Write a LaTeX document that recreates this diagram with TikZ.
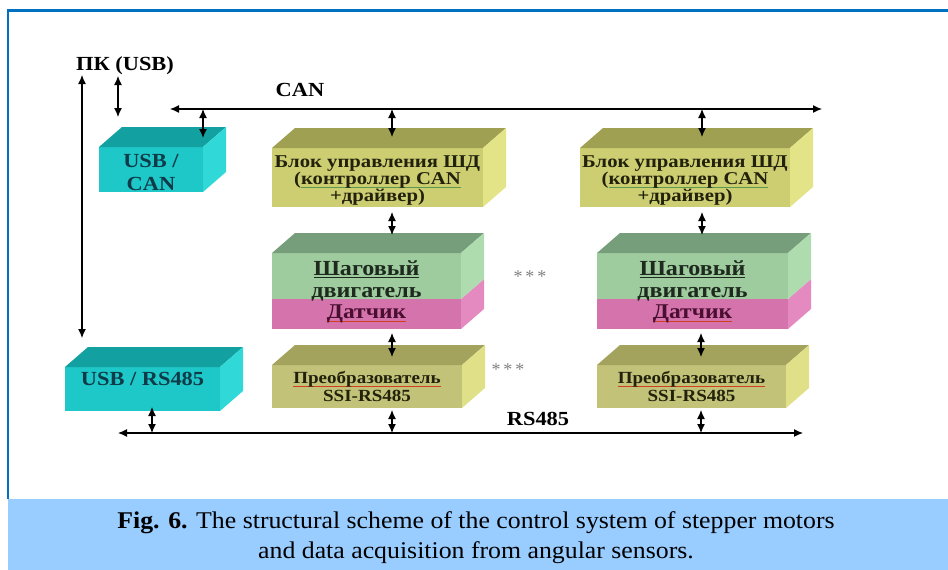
\documentclass[tikz,border=0pt]{standalone}
\usepackage{fontspec}
\setmainfont{Liberation Serif}
\newfontfamily\boxfont[FakeStretch=1.12]{Liberation Serif}
\newfontfamily\boxfontw[FakeStretch=1.15]{Liberation Serif}
\newfontfamily\capfont[FakeStretch=1.075]{Liberation Serif}
\usetikzlibrary{arrows.meta}
\definecolor{frameblue}{HTML}{0070C0}
\definecolor{capband}{HTML}{99CCFF}
\definecolor{cyF}{HTML}{1EC8C8}
\definecolor{cyT}{HTML}{12A0A0}
\definecolor{cyS}{HTML}{30D8D8}
\definecolor{cyX}{HTML}{0F3A48}
\definecolor{yeF}{HTML}{CDCD72}
\definecolor{yeT}{HTML}{A0A052}
\definecolor{yeS}{HTML}{E3E387}
\definecolor{yeX}{HTML}{22220C}
\definecolor{cvF}{HTML}{C2C278}
\definecolor{cvT}{HTML}{A3A35E}
\definecolor{cvS}{HTML}{E0E088}
\definecolor{grF}{HTML}{9FCC9F}
\definecolor{grT}{HTML}{779E7B}
\definecolor{grS}{HTML}{AEDCAE}
\definecolor{grX}{HTML}{1E2A1E}
\definecolor{pkF}{HTML}{D473AC}
\definecolor{pkS}{HTML}{E58AC0}
\definecolor{pkX}{HTML}{4A0F30}
\definecolor{ulgreen}{HTML}{5A9A4A}
\definecolor{ulred}{HTML}{D04020}
\definecolor{stargray}{HTML}{808080}
\newsavebox\ulbox
\newcommand\colul[2]{\sbox\ulbox{#2}\rlap{\textcolor{#1}{\rule[-3pt]{\wd\ulbox}{0.8pt}}}\usebox\ulbox}
\newcommand\topface[2]{\fill[#2] (#1.north west) -- ++(23,-20) -- ([shift={(23,-20)}]#1.north east) -- (#1.north east) -- cycle;}
\newcommand\sideface[2]{\fill[#2] (#1.north east) -- ++(23,-20) -- ([shift={(23,-20)}]#1.south east) -- (#1.south east) -- cycle;}
\tikzset{
  face/.style={inner sep=0pt, outer sep=0pt, align=center},
  txt/.style={inner sep=0pt, align=center},
  dar/.style={{Latex[length=9pt,width=8pt]}-{Latex[length=9pt,width=8pt]}, line width=1.2pt, black},
  lbl/.style={inner sep=0pt, font=\boxfont\bfseries\fontsize{20}{20}\selectfont},
  ytxt/.style={txt, text=yeX, font=\boxfontw\bfseries\fontsize{18}{17}\selectfont},
  vtxt/.style={text=yeX, font=\boxfont\bfseries\fontsize{17}{18}\selectfont},
  gtxt/.style={txt, text=grX, font=\boxfont\bfseries\fontsize{21.5}{22}\selectfont},
  ctxt/.style={txt, text=cyX, font=\boxfont\bfseries\fontsize{20}{23}\selectfont},
  stars/.style={text=stargray, font=\fontsize{18}{18}\selectfont}
}
\begin{document}
\begin{tikzpicture}[x=1pt,y=-1pt]
\useasboundingbox (0,0) rectangle (948,570);
% frame
\fill[capband] (8,499) rectangle (948,570);
\draw[frameblue, line width=2pt] (8,499) -- (8,10);
\draw[frameblue, line width=3pt] (7,10) -- (948,10);
% caption
\node[inner sep=0pt, align=center, font=\capfont\fontsize{24}{30}\selectfont] (cap) at (476,538)
  {\textbf{Fig. 6.} The structural scheme of the control system of stepper motors\\and data acquisition from angular sensors.};

% USB/CAN
\node[face, fill=cyF, minimum width=104pt, minimum height=45pt] (usbcan) at (151,169.5) {};
\topface{usbcan}{cyT}\sideface{usbcan}{cyS}
\node[ctxt] (usbcant) at ([yshift=-3pt]usbcan.center) {USB /\\CAN};
% USB/RS485
\node[face, fill=cyF, minimum width=155pt, minimum height=44pt] (usbrs) at (142.5,389) {};
\topface{usbrs}{cyT}\sideface{usbrs}{cyS}
\node[ctxt] (usbrst) at ([yshift=10pt]usbrs.center) {USB / RS485};

% control blocks
\node[face, fill=yeF, minimum width=211pt, minimum height=59pt] (blk1) at (377.5,177.5) {};
\topface{blk1}{yeT}\sideface{blk1}{yeS}
\node[ytxt] (blk1t) at ([yshift=-3.5pt]blk1.center)
  {Блок управления ШД\\(\colul{ulgreen}{контроллер CAN}\\+драйвер)};
\node[face, fill=yeF, minimum width=210pt, minimum height=59pt] (blk2) at (685,177.5) {};
\topface{blk2}{yeT}\sideface{blk2}{yeS}
\node[ytxt] (blk2t) at ([yshift=-3.5pt]blk2.center)
  {Блок управления ШД\\(\colul{ulgreen}{контроллер CAN}\\+драйвер)};

% sensors
\node[face, fill=pkF, minimum width=189pt, minimum height=30pt, text=pkX, font=\boxfont\bfseries\fontsize{21}{22}\selectfont] (sen1) at (366.5,314) {\colul{ulred}{Датчик}};
\sideface{sen1}{pkS}
\node[face, fill=pkF, minimum width=191pt, minimum height=30pt, text=pkX, font=\boxfont\bfseries\fontsize{21}{22}\selectfont] (sen2) at (692.5,314) {\colul{ulred}{Датчик}};
\sideface{sen2}{pkS}
% motors
\node[face, fill=grF, minimum width=189pt, minimum height=46pt] (mot1) at (366.5,276) {};
\topface{mot1}{grT}\sideface{mot1}{grS}
\node[gtxt] (mot1t) at ([yshift=-4.5pt]mot1.center) {\colul{grX}{Шаговый}\\двигатель};
\node[face, fill=grF, minimum width=191pt, minimum height=46pt] (mot2) at (692.5,276) {};
\topface{mot2}{grT}\sideface{mot2}{grS}
\node[gtxt] (mot2t) at ([yshift=-4.5pt]mot2.center) {\colul{grX}{Шаговый}\\двигатель};

% converters
\node[face, fill=cvF, minimum width=190pt, minimum height=43pt, vtxt] (cnv1) at (367,386.5) {\colul{ulred}{Преобразователь}\\SSI-RS485};
\topface{cnv1}{cvT}\sideface{cnv1}{cvS}
\node[face, fill=cvF, minimum width=189pt, minimum height=43pt, vtxt] (cnv2) at (691.5,386.5) {\colul{ulred}{Преобразователь}\\SSI-RS485};
\topface{cnv2}{cvT}\sideface{cnv2}{cvS}

% labels
\node[lbl] (pc) at (125,66) {ПК (USB)};
\node[lbl] (canlbl) at (300,90) {CAN};
\node[lbl] (rslbl) at (538,419) {RS485};
\node[stars] (st1) at (530,277) {*\hspace{3pt}*\hspace{3pt}*};
\node[stars] (st2) at (508,370) {*\hspace{3pt}*\hspace{3pt}*};

% buses
\coordinate (canL) at (170,109);
\coordinate (canR) at (822,109);
\coordinate (rsL) at (118,433);
\coordinate (rsR) at (803,433);
\draw[dar] (canL) -- (canR);
\draw[dar] (rsL) -- (rsR);

% PC links
\coordinate (pcA) at ([xshift=-43pt,yshift=-9pt]pc.center);
\coordinate (pcB) at ([xshift=-7pt,yshift=-10pt]pc.center);
\draw[dar] (pcA) -- ([xshift=17pt,yshift=29pt]usbrs.north west);
\draw[dar] (pcB) -- ([xshift=19pt,yshift=30pt]usbcan.north west);

% CAN drops
\draw[dar] ([yshift=9pt]usbcan.north east) -- (usbcan.north east |- canL);
\coordinate (b1) at ([xshift=14.5pt,yshift=11pt]blk1.north);
\coordinate (b2) at ([xshift=17pt,yshift=11pt]blk2.north);
\draw[dar] (b1) -- (b1 |- canL);
\draw[dar] (b2) -- (b2 |- canL);

% block to motor
\draw[dar] ([xshift=14.5pt,yshift=-5pt]blk1.south) -- ([xshift=25.5pt,yshift=18pt]mot1.north);
\draw[dar] ([xshift=17pt,yshift=-5pt]blk2.south) -- ([xshift=9.5pt,yshift=18pt]mot2.north);

% sensor to converter
\draw[dar] ([xshift=25.5pt,yshift=-4pt]sen1.south) -- ([xshift=25pt,yshift=8pt]cnv1.north);
\draw[dar] ([xshift=8.5pt,yshift=-4pt]sen2.south) -- ([xshift=9.5pt,yshift=8pt]cnv2.north);

% RS485 drops
\coordinate (c1) at ([xshift=25pt,yshift=-2pt]cnv1.south);
\coordinate (c2) at ([xshift=9.5pt,yshift=-2pt]cnv2.south);
\coordinate (u1) at ([xshift=9.5pt,yshift=4pt]usbrs.south);
\draw[dar] (c1) -- (c1 |- rsL);
\draw[dar] (c2) -- (c2 |- rsL);
\draw[dar] (u1) -- (u1 |- rsL);
\end{tikzpicture}
\end{document}
